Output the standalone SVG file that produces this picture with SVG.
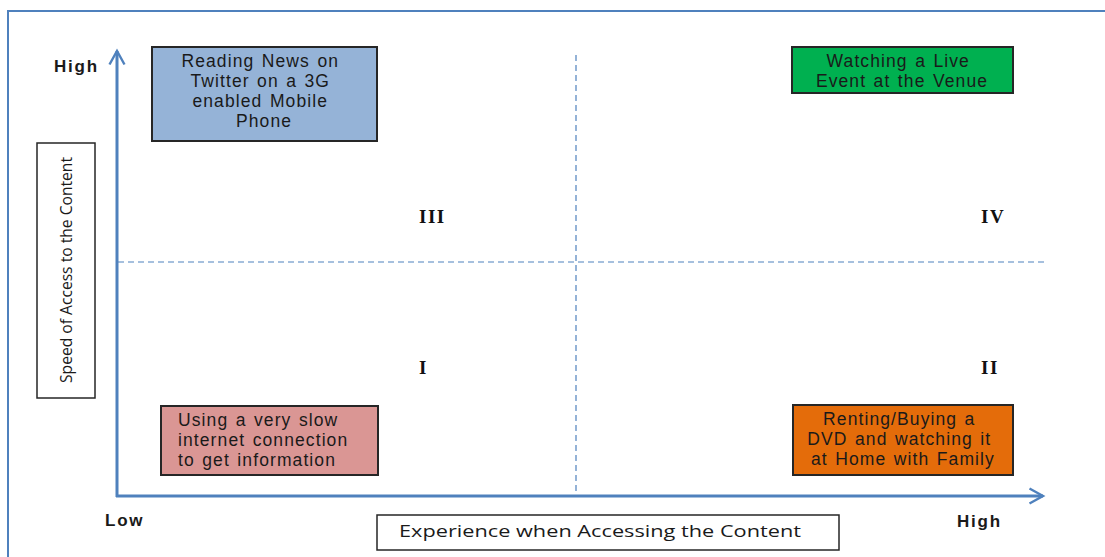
<svg xmlns="http://www.w3.org/2000/svg" width="1105" height="557" viewBox="0 0 1105 557">
  <style>
    .axis { stroke: #4F81BD; stroke-width: 3; fill: none; }
    .grid { stroke: #4F81BD; stroke-width: 1.2; stroke-dasharray: 6 4; fill: none; }
    .box { stroke: #262626; stroke-width: 2; }
    .label { font-family: "Liberation Sans", Arial, sans-serif; font-size: 17.5px; letter-spacing: 1.1px; word-spacing: 1.5px; fill: #1a1a1a; }
    .axislabel { font-family: "Open Sans", "Liberation Sans", sans-serif; font-size: 15.5px; fill: #1a1a1a; }
    .level { font-family: "Liberation Sans", Arial, sans-serif; font-size: 17px; font-weight: bold; letter-spacing: 1.8px; fill: #1a1a1a; }
    .quad { font-family: "Liberation Serif", "Times New Roman", serif; font-size: 19px; font-weight: bold; letter-spacing: 1.5px; fill: #111; }
  </style>
  <defs>
    <marker id="arrow" viewBox="0 0 12 12" refX="10" refY="6" markerWidth="6" markerHeight="6" orient="auto" markerUnits="strokeWidth">
      <path d="M1,1 L10,6 L1,11" fill="none" stroke="#4F81BD" stroke-width="1.6" stroke-linejoin="miter"/>
    </marker>
  </defs>

  <rect width="1105" height="557" fill="#ffffff"/>
  <!-- outer frame -->
  <rect x="8" y="11" width="1110" height="560" fill="none" stroke="#4F81BD" stroke-width="2"/>

  <g id="connectors">
    <!-- quadrant dividers -->
    <line class="grid" x1="576" y1="55" x2="576" y2="496"/>
    <line class="grid" x1="118" y1="262" x2="1047" y2="262"/>
    <!-- axes -->
    <line class="axis" x1="117" y1="497" x2="117" y2="51" marker-end="url(#arrow)"/>
    <line class="axis" x1="116" y1="496" x2="1043" y2="496" marker-end="url(#arrow)"/>
  </g>

  <g id="axis-levels">
    <text class="level" x="54" y="72">High</text>
    <text class="level" x="105" y="526">Low</text>
    <text class="level" x="957" y="527">High</text>
  </g>

  <g id="quadrant-numbers">
    <text class="quad" x="419" y="223">III</text>
    <text class="quad" x="981" y="223">IV</text>
    <text class="quad" x="419" y="374">I</text>
    <text class="quad" x="981" y="374">II</text>
  </g>

  <g id="y-axis-title">
    <rect x="37" y="143" width="58" height="255" fill="#ffffff" stroke="#262626" stroke-width="1.5"/>
    <text class="axislabel" transform="translate(72,270) rotate(-90)" text-anchor="middle" textLength="226" lengthAdjust="spacingAndGlyphs">Speed of Access to the Content</text>
  </g>

  <g id="x-axis-title">
    <rect x="377" y="515" width="462" height="35" fill="#ffffff" stroke="#262626" stroke-width="1.5"/>
    <text class="axislabel" x="399" y="537" textLength="402" lengthAdjust="spacingAndGlyphs">Experience when Accessing the Content</text>
  </g>

  <g id="twitter-news">
    <rect class="box" x="152" y="47" width="225" height="94" fill="#95B3D7"/>
    <text class="label" text-anchor="middle">
      <tspan x="264" y="67">Reading News on</tspan>
      <tspan x="264" y="87">Twitter on a 3G</tspan>
      <tspan x="264" y="107">enabled Mobile</tspan>
      <tspan x="264" y="127">Phone</tspan>
    </text>
  </g>

  <g id="live-event">
    <rect class="box" x="792" y="47" width="221" height="46" fill="#00B050"/>
    <text class="label" text-anchor="middle">
      <tspan x="902" y="67">Watching a Live</tspan>
      <tspan x="902" y="87">Event at the Venue</tspan>
    </text>
  </g>

  <g id="slow-internet">
    <rect class="box" x="161" y="406" width="217" height="69" fill="#DA9694"/>
    <text class="label">
      <tspan x="178" y="426">Using a very slow</tspan>
      <tspan x="178" y="446">internet connection</tspan>
      <tspan x="178" y="466">to get information</tspan>
    </text>
  </g>

  <g id="dvd-at-home">
    <rect class="box" x="793" y="405" width="220" height="70" fill="#E46C0A"/>
    <text class="label" text-anchor="middle">
      <tspan x="903" y="425">Renting/Buying a</tspan>
      <tspan x="903" y="445">DVD and watching it</tspan>
      <tspan x="903" y="465">at Home with Family</tspan>
    </text>
  </g>
</svg>
